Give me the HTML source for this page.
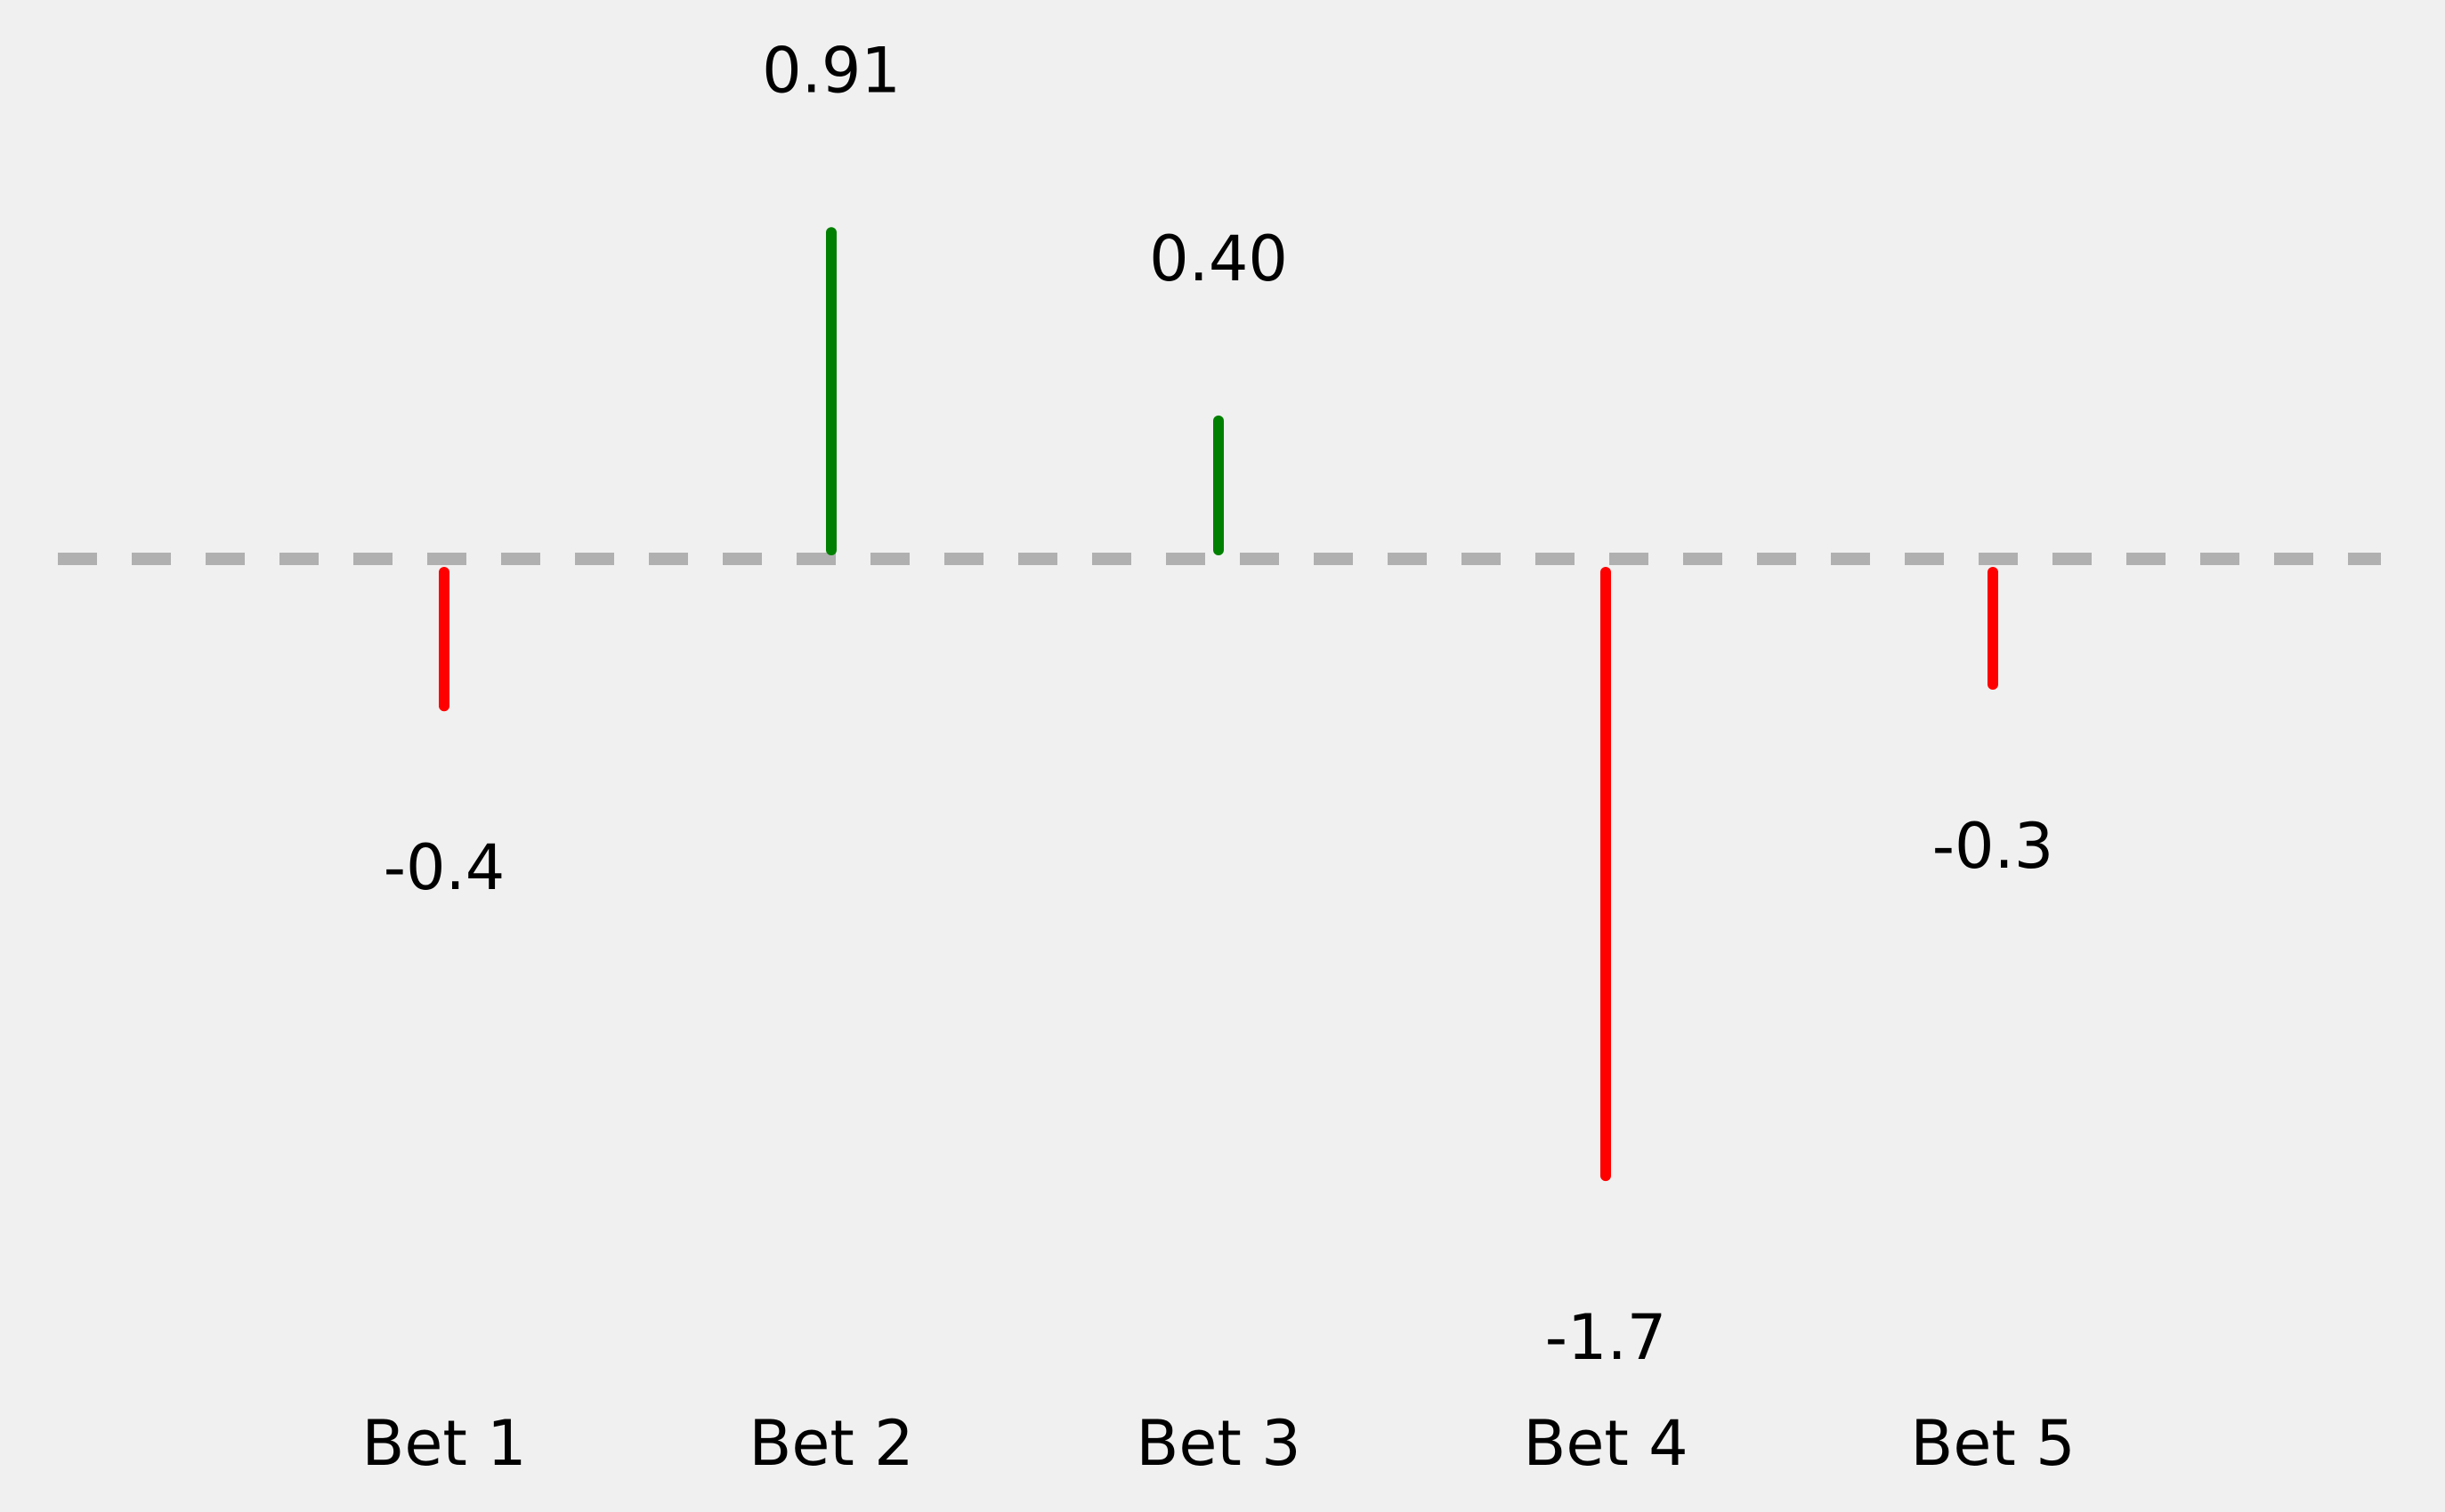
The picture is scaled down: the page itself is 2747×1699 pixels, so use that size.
<!DOCTYPE html>
<html>
<head>
<meta charset="utf-8">
<style>
  html,body{margin:0;padding:0;background:#f0f0f0;}
  svg{display:block;}
  text{font-family:"DejaVu Sans","Liberation Sans",sans-serif;fill:#000;}
</style>
</head>
<body>
<svg id="chart" width="2747" height="1699" viewBox="0 0 2747 1699" xmlns="http://www.w3.org/2000/svg">
  <rect x="0" y="0" width="2747" height="1699" fill="#f0f0f0"/>
  <line x1="65" y1="628" x2="2675" y2="628" stroke="#b0b0b0" stroke-width="14" stroke-dasharray="44 39"/>
  <g id="bars"></g>
  <g id="labels"></g>
  <g id="xticks"></g>
</svg>
<script>
const categories = ["Bet 1","Bet 2","Bet 3","Bet 4","Bet 5"];
const values = [-0.41, 0.91, 0.385, -1.72, -0.35];
const valueLabels = ["-0.4","0.91","0.40","-1.7","-0.3"];

const NS = "http://www.w3.org/2000/svg";
const x0 = 499, xStep = 435;
function xPos(i){ return x0 + i * xStep; }
const baseY = 628, unit = 403;
function yPos(v){ return baseY - v * unit; }

const bars = document.getElementById('bars');
const labels = document.getElementById('labels');
const xticks = document.getElementById('xticks');

values.forEach((v, i) => {
  const x = xPos(i);
  const pos = v >= 0;
  const line = document.createElementNS(NS, 'line');
  
  
  line.setAttribute('x1', x);
  line.setAttribute('x2', x);
  line.setAttribute('y1', pos ? baseY - 10 : baseY + 15);
  line.setAttribute('y2', yPos(v));
  line.setAttribute('stroke', pos ? '#008000' : '#ff0000');
  line.setAttribute('stroke-width', '12');
  line.setAttribute('stroke-linecap', 'round');
  bars.appendChild(line);

  const t = document.createElementNS(NS, 'text');
  
  
  t.setAttribute('x', x);
  t.setAttribute('y', pos ? yPos(v) - 182 : yPos(v) + 182);
  t.setAttribute('text-anchor', 'middle');
  t.setAttribute('dominant-baseline', 'central');
  t.setAttribute('font-size', '70');
  t.textContent = valueLabels[i];
  labels.appendChild(t);

  const c = document.createElementNS(NS, 'text');
  
  
  c.setAttribute('x', x);
  c.setAttribute('y', 1622);
  c.setAttribute('text-anchor', 'middle');
  c.setAttribute('dominant-baseline', 'central');
  c.setAttribute('font-size', '70');
  c.textContent = categories[i];
  xticks.appendChild(c);
});
</script>
</body>
</html>
